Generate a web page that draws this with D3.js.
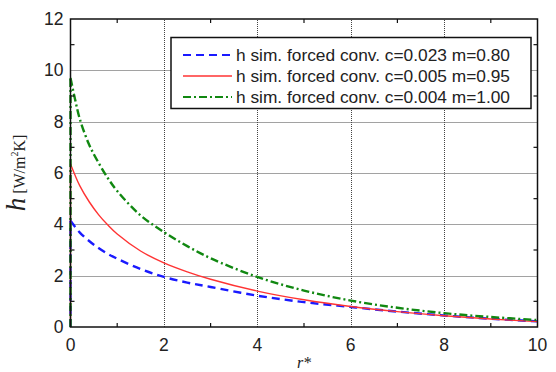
<!DOCTYPE html>
<html>
<head>
<meta charset="utf-8">
<script src="https://cdn.jsdelivr.net/npm/d3@7.9.0/dist/d3.min.js"></script>
<style>
  body { margin: 0; background: #fff; }
  svg { display: block; }
</style>
</head>
<body>
<svg id="chart" width="556" height="372"></svg>
<script>
const rValues = [0, 0.1, 0.2, 0.4, 0.6, 0.8, 1, 1.5, 2, 2.5, 3, 4, 5, 6, 7, 8, 9, 10];
const hBlue  = [4.14, 3.9, 3.68, 3.35, 3.08, 2.85, 2.66, 2.26, 1.95, 1.73, 1.56, 1.22, 0.97, 0.78, 0.6, 0.45, 0.32, 0.22];
const hRed   = [6.35, 5.9, 5.5, 4.88, 4.38, 3.97, 3.62, 2.96, 2.5, 2.15, 1.86, 1.4, 1.06, 0.8, 0.6, 0.44, 0.31, 0.21];
const hGreen = [9.7, 8.85, 8.1, 7.1, 6.4, 5.8, 5.3, 4.35, 3.7, 3.15, 2.68, 1.95, 1.42, 1.03, 0.75, 0.54, 0.39, 0.27];

const seriesLabels = [
  "h sim. forced conv. c=0.023 m=0.80",
  "h sim. forced conv. c=0.005 m=0.95",
  "h sim. forced conv. c=0.004 m=1.00"
];
const xTicks = [0, 2, 4, 6, 8, 10];
const yTicks = [0, 2, 4, 6, 8, 10, 12];
const xMinor = [1, 3, 5, 7, 9];
const yMinor = [1, 3, 5, 7, 9, 11];

const styles = [
  { color: "#1a1aff", width: 2.4, dash: "8,5" },
  { color: "#ff3333", width: 1.4, dash: null },
  { color: "#118811", width: 2.4, dash: "8,3,2,3" }
];

const margin = { left: 70.5, right: 18.5, top: 19, bottom: 45 };
const W = 556, H = 372;
const svg = d3.select("#chart");

const x = d3.scaleLinear().domain([0, 10]).range([margin.left, W - margin.right]);
const y = d3.scaleLinear().domain([0, 12]).range([H - margin.bottom, margin.top]);
const snap = v => Math.round(v) + 0.5;

// grid
const grid = svg.append("g").attr("stroke", "#444").attr("stroke-width", 1).attr("stroke-dasharray", "1,1");
xTicks.slice(1, -1).forEach(t => {
  grid.append("line").attr("x1", snap(x(t))).attr("x2", snap(x(t))).attr("y1", y(0)).attr("y2", y(12));
});
yTicks.slice(1, -1).forEach(t => {
  grid.append("line").attr("x1", x(0)).attr("x2", x(10)).attr("y1", snap(y(t))).attr("y2", snap(y(t)));
});

// curves
const allSeries = [hBlue, hRed, hGreen];
const line = d3.line()
  .x(d => x(d[0]))
  .y(d => y(d[1]))
  .curve(d3.curveCatmullRom.alpha(0.5));

allSeries.forEach((vals, i) => {
  const pts = rValues.map((r, j) => [r, vals[j]]);
  const s = styles[i];
  // jump at r*=0
  svg.append("line")
    .attr("x1", x(0)).attr("x2", x(0))
    .attr("y1", y(0)).attr("y2", y(vals[0]))
    .attr("stroke", s.color).attr("stroke-width", s.width)
    .attr("stroke-dasharray", s.dash);
  svg.append("path")
    .attr("d", line(pts))
    .attr("fill", "none")
    .attr("stroke", s.color)
    .attr("stroke-width", s.width)
    .attr("stroke-dasharray", s.dash);
});

// frame and ticks
svg.append("rect")
  .attr("x", x(0)).attr("y", y(12))
  .attr("width", x(10) - x(0)).attr("height", y(0) - y(12))
  .attr("fill", "none").attr("stroke", "#111").attr("stroke-width", 1.5);

const ticks = svg.append("g").attr("stroke", "#111").attr("stroke-width", 1.2);
xMinor.forEach(t => {
  ticks.append("line").attr("x1", x(t)).attr("x2", x(t)).attr("y1", y(0)).attr("y2", y(0) - 4);
  ticks.append("line").attr("x1", x(t)).attr("x2", x(t)).attr("y1", y(12)).attr("y2", y(12) + 4);
});
yMinor.forEach(t => {
  ticks.append("line").attr("x1", x(0)).attr("x2", x(0) + 4).attr("y1", y(t)).attr("y2", y(t));
  ticks.append("line").attr("x1", x(10)).attr("x2", x(10) - 4).attr("y1", y(t)).attr("y2", y(t));
});

// tick labels
const font = "Liberation Sans, Arial, sans-serif";
svg.append("g").selectAll("text").data(xTicks).join("text")
  .attr("x", d => x(d)).attr("y", y(0) + 24)
  .attr("text-anchor", "middle")
  .attr("font-family", font).attr("font-size", 17.5).attr("fill", "#222")
  .text(d => d);
svg.append("g").selectAll("text").data(yTicks).join("text")
  .attr("x", x(0) - 7).attr("y", d => y(d) + 6)
  .attr("text-anchor", "end")
  .attr("font-family", font).attr("font-size", 17.5).attr("fill", "#222")
  .text(d => d);

// axis titles
const serif = "Liberation Serif, Times New Roman, serif";
svg.append("text")
  .attr("x", (x(0) + x(10)) / 2).attr("y", 368)
  .attr("text-anchor", "middle")
  .attr("font-family", serif).attr("font-size", 16).attr("font-style", "italic").attr("fill", "#222")
  .text("r*");

const yt = svg.append("text")
  .attr("transform", `translate(25,${(y(0) + y(12)) / 2}) rotate(-90)`)
  .attr("text-anchor", "middle")
  .attr("font-family", serif).attr("fill", "#222");
yt.append("tspan").attr("font-size", 27).attr("font-style", "italic").text("h");
yt.append("tspan").attr("font-size", 16).text(" [W/m");
yt.append("tspan").attr("font-size", 10).attr("dy", -7).text("2");
yt.append("tspan").attr("font-size", 16).attr("dy", 7).text("K]");

// legend
const legend = svg.append("g");
legend.append("rect")
  .attr("x", 171).attr("y", 37.5).attr("width", 360).attr("height", 71)
  .attr("fill", "#fff").attr("stroke", "#111").attr("stroke-width", 1.5);
seriesLabels.forEach((lab, i) => {
  const ly = 55 + i * 21;
  const s = styles[i];
  legend.append("line")
    .attr("x1", 183).attr("x2", 232).attr("y1", ly).attr("y2", ly)
    .attr("stroke", s.color).attr("stroke-width", s.width === 1.4 ? 1.6 : 2)
    .attr("stroke-dasharray", s.dash);
  legend.append("text")
    .attr("x", 236).attr("y", ly + 6)
    .attr("font-family", font).attr("font-size", 17).attr("fill", "#222")
    .attr("textLength", 274).attr("lengthAdjust", "spacingAndGlyphs")
    .text(lab);
});
</script>
</body>
</html>
